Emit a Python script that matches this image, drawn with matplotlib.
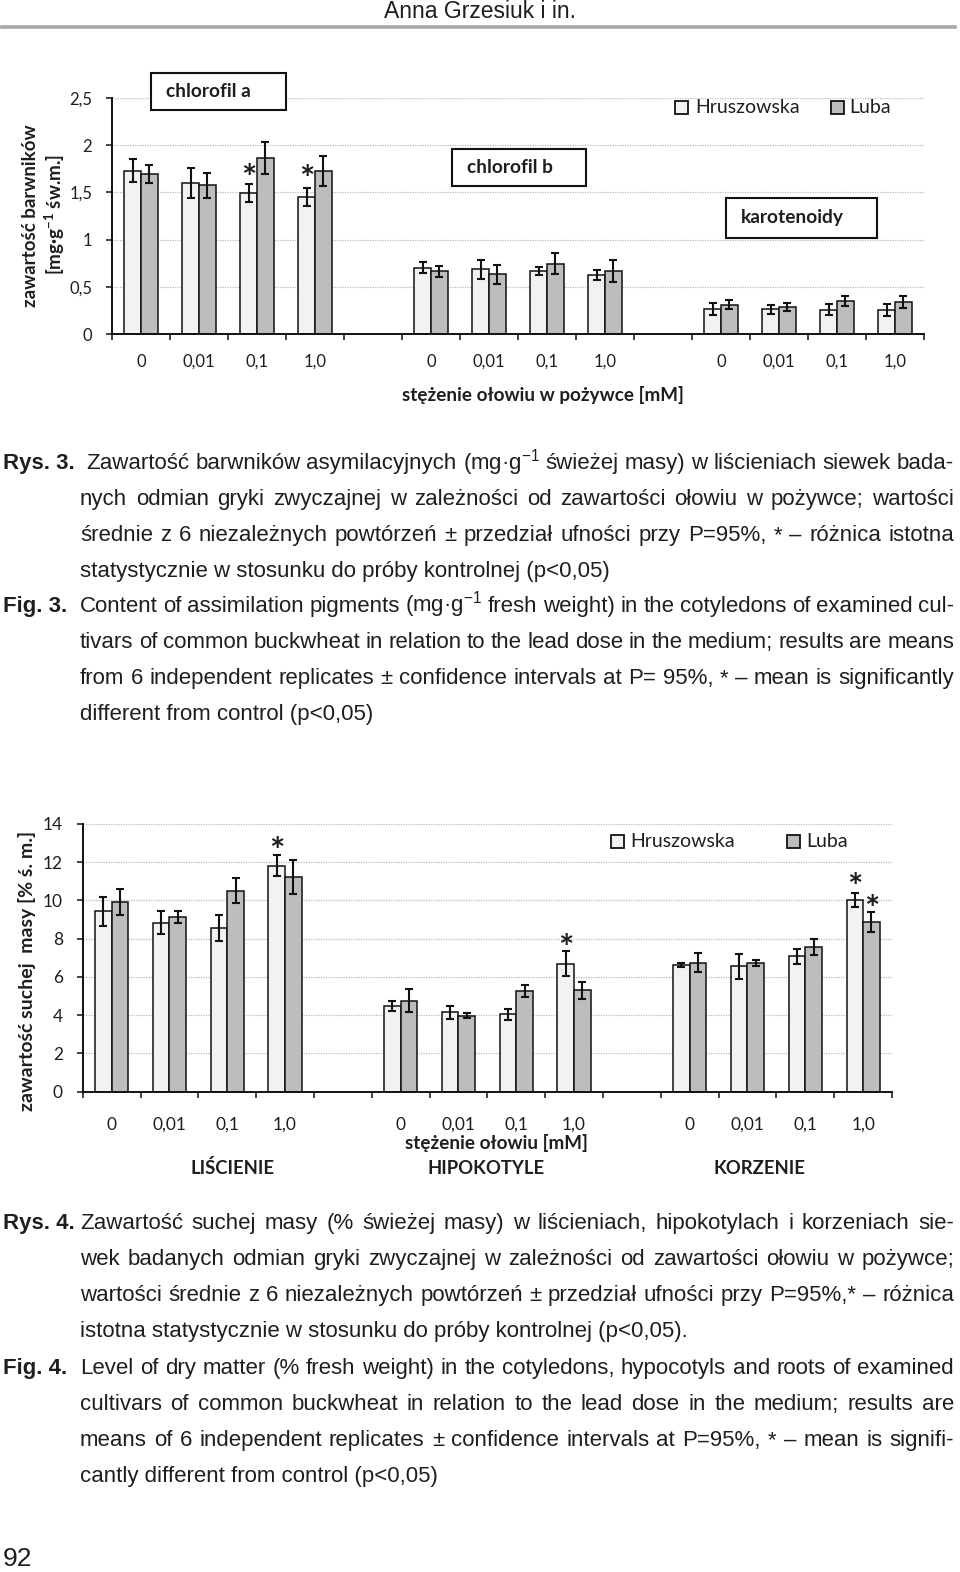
import matplotlib
matplotlib.use('Agg')
import matplotlib.pyplot as plt
import numpy as np
from matplotlib.patches import Rectangle
from matplotlib.lines import Line2D

W, H, DPI = 960, 1572, 100
plt.rcParams['font.family'] = ['Lato', 'DejaVu Sans']
plt.rcParams['mathtext.fontset'] = 'custom'
plt.rcParams['mathtext.rm'] = 'Liberation Sans'
plt.rcParams['mathtext.it'] = 'Liberation Sans:italic'
plt.rcParams['mathtext.bf'] = 'Liberation Sans:bold'

# ---------------- data: Rys. 3 (pigments, mg·g-1 FW) ----------------
doses = ['0', '0,01', '0,1', '1,0']
pigments = ['chlorofil a', 'chlorofil b', 'karotenoidy']
cultivars = ['Hruszowska', 'Luba']
pig_hru = [1.73, 1.60, 1.49, 1.45, 0.705, 0.687, 0.666, 0.627, 0.271, 0.264, 0.260, 0.254]
pig_hru_ci = [0.123, 0.16, 0.093, 0.095, 0.06, 0.10, 0.042, 0.05, 0.062, 0.048, 0.06, 0.063]
pig_luba = [1.694, 1.574, 1.863, 1.725, 0.666, 0.634, 0.747, 0.67, 0.313, 0.292, 0.349, 0.345]
pig_luba_ci = [0.095, 0.13, 0.17, 0.162, 0.06, 0.10, 0.115, 0.12, 0.048, 0.044, 0.053, 0.062]
# significance marks: (group, dose index, cultivar index, y value of mark)
pig_signif = [(0, 2, 0, 1.75), (0, 3, 0, 1.74)]

# ---------------- data: Rys. 4 (dry matter, % FW) ----------------
organs = ['LIŚCIENIE', 'HIPOKOTYLE', 'KORZENIE']
dm_hru = [9.43, 8.84, 8.56, 11.82, 4.48, 4.15, 4.04, 6.69, 6.64, 6.56, 7.08, 10.02]
dm_hru_ci = [0.77, 0.61, 0.66, 0.56, 0.25, 0.35, 0.29, 0.66, 0.10, 0.66, 0.39, 0.35]
dm_luba = [9.92, 9.12, 10.51, 11.24, 4.76, 3.97, 5.26, 5.30, 6.75, 6.75, 7.57, 8.86]
dm_luba_ci = [0.70, 0.32, 0.66, 0.88, 0.61, 0.13, 0.30, 0.43, 0.50, 0.16, 0.43, 0.52]
dm_signif = [(0, 3, 0, 13.07), (1, 3, 0, 8.02), (2, 3, 0, 11.19), (2, 3, 1, 10.06)]

# ---------------- captions ----------------
SUP = r'$^{\mathregular{-1}}$'
cap3_pl = ["Zawartość barwników asymilacyjnych (mg·g" + SUP + " świeżej masy) w liścieniach siewek bada-",
           "nych odmian gryki zwyczajnej w zależności od zawartości ołowiu w pożywce; wartości",
           "średnie z 6 niezależnych powtórzeń ± przedział ufności przy P=95%, * – różnica istotna",
           "statystycznie w stosunku do próby kontrolnej (p<0,05)"]
cap3_en = ["Content of assimilation pigments (mg·g" + SUP + " fresh weight) in the cotyledons of examined cul-",
           "tivars of common buckwheat in relation to the lead dose in the medium; results are means",
           "from 6 independent replicates ± confidence intervals at P= 95%, * – mean is significantly",
           "different from control (p<0,05)"]
cap4_pl = ["Zawartość suchej masy (% świeżej masy) w liścieniach, hipokotylach i korzeniach sie-",
           "wek badanych odmian gryki zwyczajnej w zależności od zawartości ołowiu w pożywce;",
           "wartości średnie z 6 niezależnych powtórzeń ± przedział ufności przy P=95%,* – różnica",
           "istotna statystycznie w stosunku do próby kontrolnej (p<0,05)."]
cap4_en = ["Level of dry matter (% fresh weight) in the cotyledons, hypocotyls and roots of examined",
           "cultivars of common buckwheat in relation to the lead dose in the medium; results are",
           "means of 6 independent replicates ± confidence intervals at P=95%, * – mean is signifi-",
           "cantly different from control (p<0,05)"]

fig = plt.figure(figsize=(W / DPI, H / DPI), dpi=DPI)
fig.patch.set_facecolor('white')
TXT = '#1e1e1e'
C_H, C_L = '#f2f2f2', '#bdbdbd'
STAR_FS = 26


def fxy(x, y):
    return x / W, 1 - y / H


def bar_panel(left, right, y0, ytop, ymax, ystep, hru, hru_ci, luba, luba_ci,
              signif, tick_fs, xpad):
    ax = fig.add_axes([left / W, 1 - y0 / H, (right - left) / W, (y0 - ytop) / H])
    ng, nd = 3, len(doses)
    pos = np.array([g * (nd + 1) + d for g in range(ng) for d in range(nd)]) + 0.5
    w = 0.287
    ek = dict(elinewidth=1.5, capthick=1.5, ecolor='#111111')
    ax.bar(pos - w / 2, hru, w, yerr=hru_ci, color=C_H, edgecolor='#111111',
           linewidth=1.1, capsize=2.8, error_kw=ek, zorder=2)
    ax.bar(pos + w / 2, luba, w, yerr=luba_ci, color=C_L, edgecolor='#111111',
           linewidth=1.1, capsize=2.8, error_kw=ek, zorder=2)
    for g, d, c, yv in signif:
        xs = pos[g * nd + d] + (w / 2 if c else -w / 2)
        ax.annotate('*', (xs, yv), xytext=(0, -0.30 * STAR_FS), textcoords='offset points',
                    ha='center', va='center', fontsize=STAR_FS, fontweight='bold',
                    color=TXT, zorder=4)
    xmax = ng * (nd + 1) - 1
    ax.set_xlim(0, xmax)
    ax.set_ylim(0, ymax)
    for s in ['top', 'right']:
        ax.spines[s].set_visible(False)
    for s in ['left', 'bottom']:
        ax.spines[s].set_linewidth(1.4)
        ax.spines[s].set_color('#111111')
    ax.set_xticks(np.arange(0, xmax + 1))
    ax.set_xticklabels([])
    ax.set_xticks(pos, minor=True)
    ax.set_xticklabels(doses * ng, minor=True, fontsize=tick_fs, color=TXT)
    ax.tick_params(axis='x', which='major', length=4, width=1.1, color='#111111')
    ax.tick_params(axis='x', which='minor', length=0, pad=xpad)
    yt = np.arange(0, ymax + ystep / 2, ystep)
    ax.set_yticks(yt)
    ax.set_yticklabels([('%g' % v).replace('.', ',') for v in yt], fontsize=tick_fs, color=TXT)
    ax.tick_params(axis='y', length=4.3, width=1.1, color='#111111', pad=10)
    ax.grid(axis='y', linestyle=(0, (1, 1)), color='#bcbcbc', linewidth=0.9)
    ax.set_axisbelow(True)
    return ax


def frame_box(x0, y0, x1, y1, face='white', lw=1.5):
    fig.patches.append(Rectangle(fxy(x0, y1), (x1 - x0) / W, (y1 - y0) / H,
                                 transform=fig.transFigure, facecolor=face,
                                 edgecolor='#111111', linewidth=lw, zorder=3))


def ftext(x, y, s, **kw):
    kw.setdefault('color', TXT)
    fig.text(*fxy(x, y), s, **kw)


# ---------------- header ----------------
ftext(480, 11, 'Anna Grzesiuk i in.', ha='center', va='center', fontsize=16.5,
      family=['Liberation Sans Narrow', 'Liberation Sans', 'DejaVu Sans'])
fig.add_artist(Line2D([2 / W, 955 / W], [1 - 27 / H, 1 - 27 / H], transform=fig.transFigure,
                      color='#a8a8a8', linewidth=2.6))

# ---------------- chart 1 ----------------
bar_panel(112, 924, 334.3, 97.7, 2.5, 0.5, pig_hru, pig_hru_ci, pig_luba, pig_luba_ci,
          pig_signif, 12, 14)
ftext(31, 216, 'zawartość barwników', rotation=90, ha='center', va='center',
      fontsize=13.5, fontweight='bold')
ftext(55, 214, '[mg·g' + r'$^{\mathregular{-1}}$' + ' św.m.]', rotation=90, ha='center',
      va='center', fontsize=13.5, fontweight='bold')
ftext(543, 395, 'stężenie ołowiu w pożywce [mM]', ha='center', va='center',
      fontsize=13.6, fontweight='bold')
for (bx0, by0, bx1, by1, tx), name in zip([(150.7, 72.7, 285.7, 110, 166),
                                           (452, 149, 586, 186, 467),
                                           (726, 198, 877, 237.7, 741)], pigments):
    frame_box(bx0, by0, bx1, by1)
    ftext(tx, (by0 + by1) / 2, name, ha='left', va='center', fontsize=13.8,
          fontweight='bold', zorder=5)
for (sx, sy, tx), name, col in zip([(675.3, 101, 695), (830.7, 101, 849)], cultivars, [C_H, C_L]):
    frame_box(sx, sy, sx + 13, sy + 13, face=col, lw=1.3)
    ftext(tx, sy + 6.5, name, ha='left', va='center', fontsize=14)

# ---------------- chart 2 ----------------
bar_panel(82.7, 892, 1091.7, 824, 14, 2, dm_hru, dm_hru_ci, dm_luba, dm_luba_ci,
          dm_signif, 12.5, 18)
ftext(27, 971, 'zawartość suchej  masy [% ś. m.]', rotation=90, ha='center', va='center',
      fontsize=14, fontweight='bold')
ftext(496, 1143, 'stężenie ołowiu [mM]', ha='center', va='center', fontsize=13.6, fontweight='bold')
for cx, name in zip([233, 486, 759], organs):
    ftext(cx, 1168, name, ha='center', va='center', fontsize=13.3, fontweight='bold')
for (sx, sy, tx), name, col in zip([(610.7, 835, 630), (787, 835, 806.7)], cultivars, [C_H, C_L]):
    frame_box(sx, sy, sx + 13, sy + 13, face=col, lw=1.3)
    ftext(tx, sy + 6.5, name, ha='left', va='center', fontsize=14)

# ---------------- captions ----------------
CAPF = ['Liberation Sans', 'DejaVu Sans']
CFS = 16
renderer = fig.canvas.get_renderer()


def tw(s):
    t = fig.text(0, 0, s, fontsize=CFS, family=CAPF)
    wd = t.get_window_extent(renderer=renderer).width
    t.remove()
    return wd


def put_line(s, x0, y, x1=None):
    if x1 is None:
        ftext(x0, y, s, fontsize=CFS, family=CAPF, ha='left', va='baseline')
        return
    words = s.split()
    ws = [tw(wd) for wd in words]
    gap = (x1 - x0 - sum(ws)) / (len(words) - 1)
    x = x0
    for wd, wv in zip(words, ws):
        ftext(x, y, wd, fontsize=CFS, family=CAPF, ha='left', va='baseline')
        x += wv + gap


def caption(label, lines, y0, first_x):
    ftext(3, y0, label, fontsize=CFS, family=CAPF, fontweight='bold', ha='left', va='baseline')
    for i, s in enumerate(lines):
        x0 = first_x if i == 0 else 80
        x1 = 954 if i < len(lines) - 1 else None
        put_line(s, x0, y0 + 36 * i, x1)


caption('Rys. 3.', cap3_pl, 469, 86)
caption('Fig. 3.', cap3_en, 612, 80)
caption('Rys. 4.', cap4_pl, 1229, 80)
caption('Fig. 4.', cap4_en, 1374, 80)

ftext(3, 1566, '92', fontsize=19, family=CAPF, ha='left', va='baseline')

fig.savefig('out.png', dpi=DPI, facecolor='white')
